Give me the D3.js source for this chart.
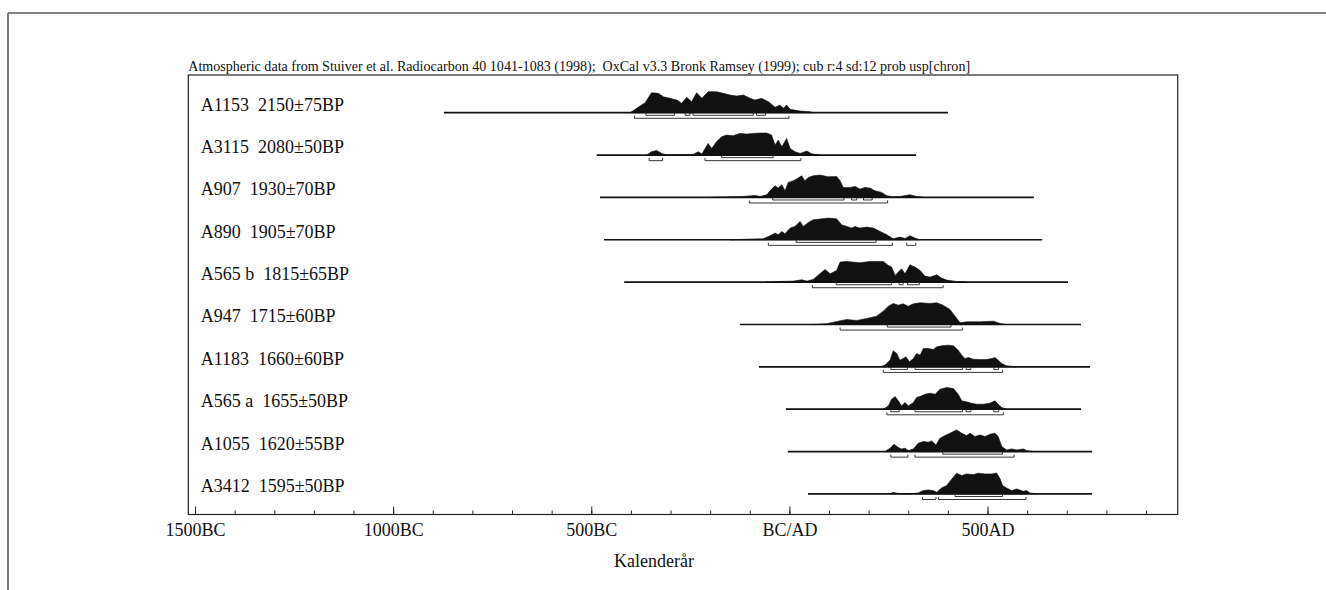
<!DOCTYPE html>
<html><head><meta charset="utf-8">
<script src="https://cdn.jsdelivr.net/npm/d3@7"></script>
<style>
body{margin:0;background:#fff}
svg{display:block}
text{font-family:"Liberation Serif","Times New Roman",serif;fill:#111;white-space:pre}
</style>
</head><body>
<svg id="c" width="1326" height="590"></svg>
<script>
// ---------- DATA ----------
const titleText = "Atmospheric data from Stuiver et al. Radiocarbon 40 1041-1083 (1998);  OxCal v3.3 Bronk Ramsey (1999); cub r:4 sd:12 prob usp[chron]";
const axisTitle = "Kalenderår";
const sampleLabels = ["A1153  2150±75BP","A3115  2080±50BP","A907  1930±70BP","A890  1905±70BP","A565 b  1815±65BP","A947  1715±60BP","A1183  1660±60BP","A565 a  1655±50BP","A1055  1620±55BP","A3412  1595±50BP"];
const tickYears = [-1500,-1400,-1300,-1200,-1100,-1000,-900,-800,-700,-600,-500,-400,-300,-200,-100,0,100,200,300,400,500,600,700,800,900];
const majorYears = [-1500,-1000,-500,0,500];
const majorLabels = ["1500BC","1000BC","500BC","BC/AD","500AD"];
// calendar year extent of each sample's baseline
const baseRanges = [[-872,400],[-486,320],[-478,617],[-468,638],[-417,703],[-125,736],[-77,759],[-9,736],[-4,764],[47,764]];
// 68.2% ranges
const ranges68 = [
  [[-362,-290],[-263,-251],[-243,-91],[-83,-60]],
  [[-171,-41]],
  [[-42,138],[157,170],[187,209]],
  [[17,219]],
  [[118,258],[277,287],[298,328]],
  [[247,408]],
  [[256,298],[317,437],[446,458],[516,528]],
  [[256,277],[317,437],[446,458],[516,528]],
  [[387,538]],
  [[418,538]]
];
// 95.4% ranges
const ranges95 = [
  [[-391,-1]],
  [[-354,-320],[-213,29]],
  [[-101,248]],
  [[-53,260],[296,319]],
  [[58,388]],
  [[128,437]],
  [[237,538]],
  [[246,540]],
  [[256,299],[317,567]],
  [[336,370],[376,597]]
];
// probability distributions: [calendar year, relative probability]
const densA1153 = [[-402,0],[-377,20],[-364,30],[-348,60],[-331,58],[-318,48],[-301,43],[-284,38],[-272,28],[-259,46],[-247,33],[-234,60],[-221,43],[-205,63],[-184,63],[-167,58],[-150,53],[-133,50],[-116,53],[-99,43],[-87,38],[-70,43],[-53,33],[-36,16],[-24,23],[-15,13],[-7,23],[2,10],[27,5],[52,3],[60,0]];
const densA3115 = [[-360,0],[-348,10],[-335,14],[-322,5],[-310,0],[-243,2],[-230,10],[-221,3],[-205,35],[-196,20],[-184,40],[-171,55],[-158,60],[-142,58],[-125,65],[-108,63],[-91,65],[-74,66],[-57,66],[-45,60],[-36,30],[-28,45],[-19,25],[-7,50],[2,20],[14,10],[27,5],[44,12],[56,4],[77,0]];
const densA907 = [[-200,0],[-142,2],[-116,3],[-87,6],[-74,3],[-57,8],[-45,25],[-36,35],[-28,28],[-19,38],[-11,20],[-3,45],[10,50],[18,55],[31,65],[39,50],[48,60],[60,65],[77,67],[98,62],[119,63],[128,50],[136,30],[153,30],[166,33],[178,25],[191,30],[203,28],[216,20],[233,15],[246,5],[262,2],[279,3],[304,8],[321,3],[338,0]];
const densA890 = [[-150,0],[-99,2],[-66,3],[-49,12],[-36,20],[-28,15],[-19,25],[-11,18],[2,35],[14,40],[27,55],[35,40],[48,52],[60,60],[77,62],[98,65],[119,63],[132,45],[145,40],[157,35],[166,40],[178,35],[195,38],[212,35],[229,25],[246,15],[262,3],[279,8],[292,4],[304,12],[317,5],[330,0]];
const densA565b = [[-60,0],[-24,2],[10,3],[31,7],[44,3],[60,8],[77,25],[90,38],[103,25],[119,35],[128,60],[145,62],[178,58],[203,62],[237,62],[250,50],[258,45],[267,20],[275,30],[283,40],[292,25],[304,52],[317,45],[330,35],[342,18],[355,15],[372,22],[384,12],[397,6],[422,2],[447,0]];
const densA947 = [[60,0],[94,2],[123,10],[145,15],[170,12],[195,18],[220,25],[237,40],[250,55],[262,63],[275,58],[287,62],[300,55],[313,62],[330,65],[355,63],[372,65],[388,58],[405,45],[418,25],[431,5],[447,8],[481,8],[515,10],[532,3],[548,0]];
const densA1183 = [[229,0],[241,5],[254,20],[262,48],[271,40],[279,20],[287,25],[294,30],[303,15],[313,25],[321,40],[330,35],[338,55],[351,55],[363,52],[372,60],[384,63],[401,65],[414,63],[426,50],[435,35],[443,25],[452,28],[464,23],[481,22],[498,22],[511,25],[519,28],[527,20],[536,10],[548,3],[574,0]];
const densA565a = [[237,0],[250,10],[258,30],[267,38],[275,25],[283,10],[292,20],[300,10],[313,20],[321,35],[334,40],[342,45],[355,48],[368,45],[380,60],[397,65],[414,62],[426,45],[435,25],[447,22],[460,18],[473,15],[489,15],[506,18],[519,25],[527,15],[536,5],[548,0]];
const densA1055 = [[241,0],[254,10],[264,22],[275,12],[283,8],[292,10],[300,3],[313,8],[325,25],[338,30],[351,28],[359,32],[370,20],[380,40],[393,48],[405,55],[422,65],[435,55],[447,48],[456,55],[468,45],[481,50],[494,45],[506,52],[519,55],[527,45],[536,15],[548,5],[561,8],[574,5],[590,8],[599,3],[616,0]];
const densA3412 = [[254,0],[262,5],[271,2],[283,0],[304,0],[325,3],[338,10],[351,12],[363,10],[372,5],[384,18],[397,25],[410,45],[422,62],[435,55],[447,60],[464,58],[477,62],[494,60],[511,60],[523,63],[532,45],[538,25],[548,18],[561,10],[574,15],[590,8],[599,10],[607,3],[624,0]];
const densities = [densA1153,densA3115,densA907,densA890,densA565b,densA947,densA1183,densA565a,densA1055,densA3412];

// ---------- CHART ----------
const svg = d3.select("#c");
const frameTop = 75, frameBottom = 514.5;
const x = d3.scaleLinear().domain([-1517, 980]).range([188.3, 1177.7]);
const row = d3.scalePoint().domain(d3.range(sampleLabels.length)).range([112.7, 493.9]);
const h = d3.scaleLinear().domain([0, 66]).range([0, 22]);

// outer border lines
svg.append("line").attr("x1",8).attr("x2",1326).attr("y1",13).attr("y2",13).attr("stroke","#555").attr("stroke-width",1.5);
svg.append("line").attr("x1",8).attr("x2",8).attr("y1",13).attr("y2",590).attr("stroke","#555").attr("stroke-width",1.5);

// title
const t = svg.append("text").attr("x", x.range()[0]).attr("y", 71).attr("font-size", 13).text(titleText);
const tl = t.node().getComputedTextLength();
t.attr("font-size", 13 * 782 / tl);

// frame
svg.append("rect").attr("x", x.range()[0]).attr("y", frameTop)
  .attr("width", x.range()[1]-x.range()[0]).attr("height", frameBottom-frameTop)
  .attr("fill","none").attr("stroke","#222").attr("stroke-width",1.2);

// rows
const area = d3.area().x(d=>x(d[0])).y0(0).y1(d=>-h(d[1]));
sampleLabels.forEach((lab,i)=>{
  const g = svg.append("g").attr("transform",`translate(0,${row(i)})`);
  g.append("text").attr("x", 200.7).attr("y", -2).attr("font-size", 18).attr("xml:space","preserve").text(lab);
  g.append("path").datum(densities[i]).attr("d", area).attr("fill","#111").attr("stroke","#111").attr("stroke-width",0.6);
  g.append("line").attr("x1", x(baseRanges[i][0])).attr("x2", x(baseRanges[i][1])).attr("y1",0).attr("y2",0)
    .attr("stroke","#111").attr("stroke-width",1.7);
  ranges68[i].forEach(r=>{
    g.append("path").attr("d", `M${x(r[0])},0V2.6H${x(r[1])}V0`).attr("fill","none").attr("stroke","#222").attr("stroke-width",0.9);
  });
  ranges95[i].forEach(r=>{
    g.append("path").attr("d", `M${x(r[0])},3V5.6H${x(r[1])}V3`).attr("fill","none").attr("stroke","#222").attr("stroke-width",0.9);
  });
});

// axis
const minorAxis = d3.axisBottom(x).tickValues(tickYears).tickSize(-4).tickFormat("");
const majorAxis = d3.axisBottom(x).tickValues(majorYears).tickSize(-8).tickPadding(9)
  .tickFormat((d,i)=>majorLabels[i]);
const ga = svg.append("g").attr("transform",`translate(0,${frameBottom})`).call(minorAxis);
const gb = svg.append("g").attr("transform",`translate(0,${frameBottom})`).call(majorAxis);
[ga,gb].forEach(g=>{
  g.select(".domain").remove();
  g.selectAll(".tick line").attr("stroke","#222").attr("stroke-width",1);
});
gb.selectAll(".tick text").attr("font-size",18).attr("font-family","Liberation Serif, Times New Roman, serif").attr("fill","#111");

svg.append("text").attr("x", 654).attr("y", 567).attr("text-anchor","middle").attr("font-size",18).text(axisTitle);
</script>
</body></html>
